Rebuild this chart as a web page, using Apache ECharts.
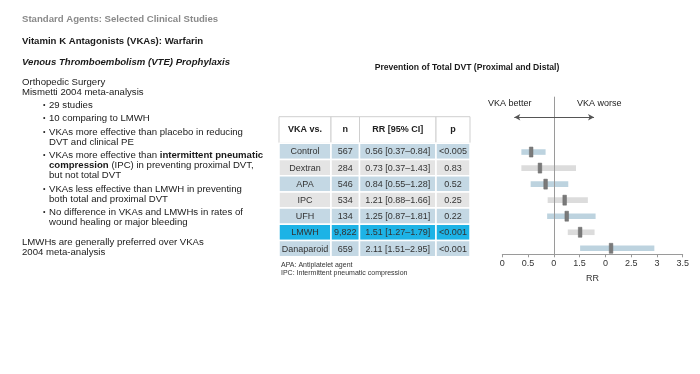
<!DOCTYPE html>
<html><head><meta charset="utf-8">
<script src="https://cdn.jsdelivr.net/npm/echarts@6/dist/echarts.min.js"></script>
<style>html,body{margin:0;padding:0;background:#fff}#c{width:700px;height:374px}</style>
</head><body><div id="c"></div>
<script>
// ---- data ----
const rowLabels = ['Control','Dextran','APA','IPC','UFH','LMWH','Danaparoid'];
const nValues = ['567','284','546','534','134','9,822','659'];
const rrValues = [0.56,0.73,0.84,1.21,1.25,1.51,2.11];
const ciLow = [0.37,0.37,0.55,0.88,0.87,1.27,1.51];
const ciHigh = [0.84,1.43,1.28,1.66,1.81,1.79,2.95];
const pValues = ['<0.005','0.83','0.52','0.25','0.22','<0.001','<0.001'];
const tableHeaders = ['VKA vs.','n','RR [95% CI]','p'];
const xTickLabels = ['0','0.5','0','1.5','0','2.5','3','3.5'];
const highlightRow = 'LMWH';

// ---- layout / style ----
const FONT = '"Liberation Sans", Arial, Helvetica, sans-serif';
const colX = [279, 331, 359.5, 436, 470];
const headTop = 116.7, headBot = 143.3, rowH = 16.2;
const blue = '#c4d8e4', grey = '#e4e4e4', cyan = '#1db3e6';

const chart = echarts.init(document.getElementById('c'), null, {renderer:'canvas'});
const g = [];
function txt(x, y, text, opt) {
  g.push({type:'text', x:x, y:y, silent:true, style:Object.assign({text:text, fill:'#1a1a1a', font:'9.6px ' + FONT, textVerticalAlign:'middle'}, opt||{})});
}
// left text block
txt(22, 19, 'Standard Agents: Selected Clinical Studies', {fill:'#8a8a8a', font:'bold 9.6px ' + FONT});
txt(22, 41, 'Vitamin K Antagonists (VKAs): Warfarin', {font:'bold 9.6px ' + FONT});
txt(22, 62, 'Venous Thromboembolism (VTE) Prophylaxis', {font:'italic bold 9.6px ' + FONT});
txt(22, 82, 'Orthopedic Surgery');
txt(22, 92, 'Mismetti 2004 meta-analysis');
const bullets = [
  {y:105, lines:['29 studies']},
  {y:118.5, lines:['10 comparing to LMWH']},
  {y:132, lines:['VKAs more effective than placebo in reducing','DVT and clinical PE']},
  {y:155.5, lines:['VKAs more effective than {b|intermittent pneumatic}','{b|compression} (IPC) in preventing proximal DVT,','but not total DVT']},
  {y:189, lines:['VKAs less effective than LMWH in preventing','both total and proximal DVT']},
  {y:212.5, lines:['No difference in VKAs and LMWHs in rates of','wound healing or major bleeding']}
];
bullets.forEach(b => {
  txt(43, b.y, '•', {font:'7px ' + FONT});
  b.lines.forEach((l, k) => {
    g.push({type:'text', x:49, y:b.y + k*10.1, silent:true, style:{
      text:l, fill:'#1a1a1a', font:'9.6px ' + FONT, textVerticalAlign:'middle',
      rich:{b:{font:'bold 9.6px ' + FONT, fill:'#1a1a1a'}}
    }});
  });
});
txt(22, 242, 'LMWHs are generally preferred over VKAs');
txt(22, 252, '2004 meta-analysis');

// chart title
txt(467, 68, 'Prevention of Total DVT (Proximal and Distal)', {font:'bold 8.6px ' + FONT, textAlign:'center'});

// table header
for (let c = 0; c < 4; c++) {
  g.push({type:'rect', silent:true, shape:{x:colX[c], y:headTop, width:colX[c+1]-colX[c], height:headBot-headTop},
    style:{fill:'#fff', stroke:'#cfcfcf', lineWidth:1}});
  txt((colX[c]+colX[c+1])/2, (headTop+headBot)/2, tableHeaders[c], {font:'bold 9px ' + FONT, textAlign:'center', fill:'#222'});
}
// table body
rowLabels.forEach((lab, i) => {
  const y0 = headBot + i*rowH;
  const fill = lab === highlightRow ? cyan : (i % 2 === 0 ? blue : grey);
  const cells = [lab, nValues[i], rrValues[i].toFixed(2) + ' [' + ciLow[i].toFixed(2) + '\u2013' + ciHigh[i].toFixed(2) + ']', pValues[i]];
  for (let c = 0; c < 4; c++) {
    g.push({type:'rect', silent:true, shape:{x:colX[c], y:y0, width:colX[c+1]-colX[c], height:rowH},
      style:{fill:fill, stroke:'#ffffff', lineWidth:1.5}});
    txt((colX[c]+colX[c+1])/2, y0 + rowH/2 + 0.5, cells[c], {font:'9px ' + FONT, textAlign:'center', fill:'#333'});
  }
});
// footnotes
txt(281, 265.5, 'APA: Antiplatelet agent', {font:'7px ' + FONT, fill:'#333'});
txt(281, 273.5, 'IPC: Intermittent pneumatic compression', {font:'7px ' + FONT, fill:'#333'});
// forest annotations
txt(531.5, 103.3, 'VKA better', {font:'9px ' + FONT, textAlign:'right', fill:'#222'});
txt(577, 103.3, 'VKA worse', {font:'9px ' + FONT, textAlign:'left', fill:'#222'});

const forestData = rowLabels.map((l, i) => [i, rrValues[i], ciLow[i], ciHigh[i]]);

chart.setOption({
  animation:false,
  backgroundColor:'#fff',
  textStyle:{fontFamily:FONT},
  graphic:g,
  grid:{left:502.3, right:17.3, top:96.7, bottom:119.7, containLabel:false},
  xAxis:{type:'value', min:0, max:3.5, interval:0.5,
    axisLine:{show:true, onZero:false, lineStyle:{color:'#9a9a9a', width:1}},
    axisTick:{show:true, length:3, lineStyle:{color:'#9a9a9a'}},
    splitLine:{show:false},
    axisLabel:{color:'#333', fontSize:9, margin:5, formatter:(v)=>{const k=Math.round(v/0.5); return xTickLabels[k]!==undefined?xTickLabels[k]:'';}},
    name:'RR', nameLocation:'middle', nameGap:20, nameTextStyle:{color:'#333', fontSize:9}
  },
  yAxis:{type:'value', inverse:true, min:-3.45, max:6.374, show:false},
  series:[{
    type:'custom', clip:false,
    encode:{x:[1,2,3], y:0},
    data:forestData,
    renderItem:(params, api) => {
      const i = api.value(0);
      const lo = api.coord([api.value(2), i]);
      const hi = api.coord([api.value(3), i]);
      const m = api.coord([api.value(1), i]);
      return {type:'group', children:[
        {type:'rect', shape:{x:lo[0], y:lo[1]-2.8, width:hi[0]-lo[0], height:5.6}, style:{fill: i % 2 === 0 ? '#bdd3df' : '#dcdcdc'}},
        {type:'rect', shape:{x:m[0]-1.8, y:m[1]-5, width:3.6, height:10}, style:{fill:'#7a7a7a', stroke:'#666', lineWidth:0.5}}
      ]};
    },
    markLine:{silent:true, symbol:['none','none'], label:{show:false},
      lineStyle:{color:'#9a9a9a', width:1, type:'solid'},
      data:[
        {xAxis:1},
        [{coord:[0.233,-2.17], symbol:'arrow', symbolSize:[5,6], lineStyle:{color:'#555'}},
         {coord:[1.78,-2.17], symbol:'arrow', symbolSize:[5,6]}]
      ]}
  }]
});
</script></body></html>
